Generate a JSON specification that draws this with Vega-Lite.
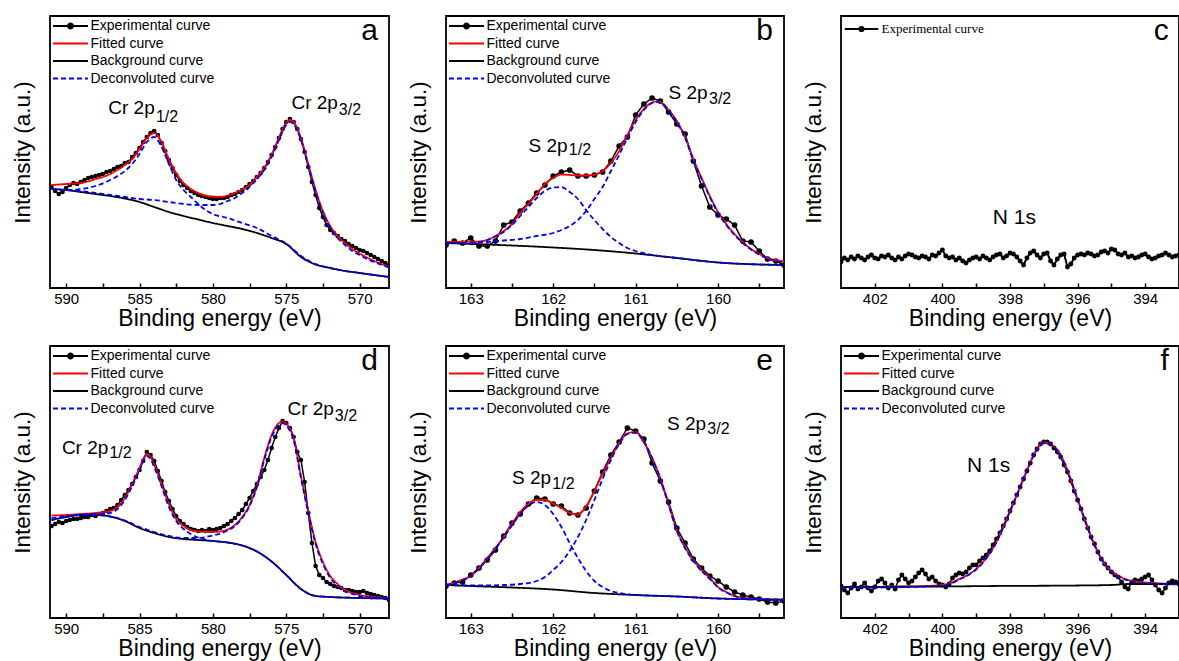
{
"$schema": "https://vega.github.io/schema/vega-lite/v6.json",
"background": "white",
"padding": {"left": 10, "top": 15, "right": 0, "bottom": 0},
"config": {
 "font": "Liberation Sans",
 "view": {"stroke": "black", "strokeWidth": 1.8},
 "axis": {"grid": false, "domain": false, "labelFont": "Liberation Sans", "labelColor": "black", "titleFont": "Liberation Sans", "titleFontWeight": "normal", "titleColor": "black"},
 "axisX": {"labelFontSize": 15, "tickSize": -5, "tickColor": "black", "tickWidth": 1.5, "labelPadding": 8, "labelFlush": false, "labelOverlap": false, "titleFontSize": 23, "titlePadding": 1},
 "axisY": {"labels": false, "ticks": false, "titleFontSize": 22.5, "titlePadding": 16},
 "legend": {"orient": "none", "legendX": 12.5, "legendY": 2, "labelFont": "Liberation Sans", "labelFontSize": 14, "labelColor": "black", "symbolSize": 196, "symbolStrokeWidth": 2, "labelOffset": 12, "rowPadding": 2.5, "padding": 0},
 "title": {"font": "Liberation Sans", "fontSize": 30, "fontWeight": "normal", "color": "black", "anchor": "end", "offset": -30, "dx": -11, "baseline": "alphabetic"}
},
"datasets": {
"a": [
{"s":"E","k":"E","x":591,"y":101},{"s":"E","k":"E","x":590.75,"y":97},{"s":"E","k":"E","x":590.5,"y":94},{"s":"E","k":"E","x":590.25,"y":96},{"s":"E","k":"E","x":590,"y":100},{"s":"E","k":"E","x":589.75,"y":103},{"s":"E","k":"E","x":589.5,"y":105},{"s":"E","k":"E","x":589.25,"y":104},{"s":"E","k":"E","x":589,"y":106},{"s":"E","k":"E","x":588.75,"y":108},{"s":"E","k":"E","x":588.5,"y":110},{"s":"E","k":"E","x":588.25,"y":111},{"s":"E","k":"E","x":588,"y":112},{"s":"E","k":"E","x":587.75,"y":113},{"s":"E","k":"E","x":587.5,"y":114},{"s":"E","k":"E","x":587.25,"y":116},{"s":"E","k":"E","x":587,"y":117},{"s":"E","k":"E","x":586.75,"y":119},{"s":"E","k":"E","x":586.5,"y":121},{"s":"E","k":"E","x":586.25,"y":122},{"s":"E","k":"E","x":586,"y":125},{"s":"E","k":"E","x":585.75,"y":126},{"s":"E","k":"E","x":585.5,"y":131},{"s":"E","k":"E","x":585.25,"y":135},{"s":"E","k":"E","x":585,"y":140},{"s":"E","k":"E","x":584.75,"y":146},{"s":"E","k":"E","x":584.5,"y":151},{"s":"E","k":"E","x":584.25,"y":155},{"s":"E","k":"E","x":584,"y":157},{"s":"E","k":"E","x":583.75,"y":153},{"s":"E","k":"E","x":583.5,"y":145},{"s":"E","k":"E","x":583.25,"y":137},{"s":"E","k":"E","x":583,"y":128},{"s":"E","k":"E","x":582.75,"y":120},{"s":"E","k":"E","x":582.5,"y":113},{"s":"E","k":"E","x":582.25,"y":107},{"s":"E","k":"E","x":582,"y":103},{"s":"E","k":"E","x":581.75,"y":100},{"s":"E","k":"E","x":581.5,"y":97},{"s":"E","k":"E","x":581.25,"y":95},{"s":"E","k":"E","x":581,"y":93},{"s":"E","k":"E","x":580.75,"y":92},{"s":"E","k":"E","x":580.5,"y":91},{"s":"E","k":"E","x":580.25,"y":90},{"s":"E","k":"E","x":580,"y":89},{"s":"E","k":"E","x":579.75,"y":89},{"s":"E","k":"E","x":579.5,"y":90},{"s":"E","k":"E","x":579.25,"y":90},{"s":"E","k":"E","x":579,"y":91},{"s":"E","k":"E","x":578.75,"y":93},{"s":"E","k":"E","x":578.5,"y":94},{"s":"E","k":"E","x":578.25,"y":96},{"s":"E","k":"E","x":578,"y":98},{"s":"E","k":"E","x":577.75,"y":101},{"s":"E","k":"E","x":577.5,"y":104},{"s":"E","k":"E","x":577.25,"y":107},{"s":"E","k":"E","x":577,"y":111},{"s":"E","k":"E","x":576.75,"y":115},{"s":"E","k":"E","x":576.5,"y":120},{"s":"E","k":"E","x":576.25,"y":126},{"s":"E","k":"E","x":576,"y":133},{"s":"E","k":"E","x":575.75,"y":141},{"s":"E","k":"E","x":575.5,"y":150},{"s":"E","k":"E","x":575.25,"y":159},{"s":"E","k":"E","x":575,"y":166},{"s":"E","k":"E","x":574.75,"y":169},{"s":"E","k":"E","x":574.5,"y":166},{"s":"E","k":"E","x":574.25,"y":159},{"s":"E","k":"E","x":574,"y":149},{"s":"E","k":"E","x":573.75,"y":136},{"s":"E","k":"E","x":573.5,"y":121},{"s":"E","k":"E","x":573.25,"y":106},{"s":"E","k":"E","x":573,"y":93},{"s":"E","k":"E","x":572.75,"y":80},{"s":"E","k":"E","x":572.5,"y":71},{"s":"E","k":"E","x":572.25,"y":63},{"s":"E","k":"E","x":572,"y":58},{"s":"E","k":"E","x":571.75,"y":55},{"s":"E","k":"E","x":571.5,"y":52},{"s":"E","k":"E","x":571.25,"y":49},{"s":"E","k":"E","x":571,"y":47},{"s":"E","k":"E","x":570.75,"y":44},{"s":"E","k":"E","x":570.5,"y":42},{"s":"E","k":"E","x":570.25,"y":40},{"s":"E","k":"E","x":570,"y":38},{"s":"E","k":"E","x":569.75,"y":37},{"s":"E","k":"E","x":569.5,"y":35},{"s":"E","k":"E","x":569.25,"y":33},{"s":"E","k":"E","x":569,"y":31},{"s":"E","k":"E","x":568.75,"y":29},{"s":"E","k":"E","x":568.5,"y":27},{"s":"E","k":"E","x":568.25,"y":25},{"s":"E","k":"E","x":568,"y":23},
{"s":"F","k":"F","x":591,"y":103},{"s":"F","k":"F","x":590.5,"y":103.5},{"s":"F","k":"F","x":590,"y":104},{"s":"F","k":"F","x":589.5,"y":104.5},{"s":"F","k":"F","x":589,"y":105},{"s":"F","k":"F","x":588.5,"y":106.5},{"s":"F","k":"F","x":588,"y":109},{"s":"F","k":"F","x":587.5,"y":111},{"s":"F","k":"F","x":587,"y":114},{"s":"F","k":"F","x":586.5,"y":118},{"s":"F","k":"F","x":586,"y":123},{"s":"F","k":"F","x":585.5,"y":129},{"s":"F","k":"F","x":585,"y":139},{"s":"F","k":"F","x":584.5,"y":150},{"s":"F","k":"F","x":584,"y":155},{"s":"F","k":"F","x":583.5,"y":146},{"s":"F","k":"F","x":583,"y":129},{"s":"F","k":"F","x":582.5,"y":115},{"s":"F","k":"F","x":582,"y":105},{"s":"F","k":"F","x":581.5,"y":99},{"s":"F","k":"F","x":581,"y":95},{"s":"F","k":"F","x":580.5,"y":92.5},{"s":"F","k":"F","x":580,"y":91.5},{"s":"F","k":"F","x":579.5,"y":91},{"s":"F","k":"F","x":579,"y":92.5},{"s":"F","k":"F","x":578.5,"y":95},{"s":"F","k":"F","x":578,"y":98.5},{"s":"F","k":"F","x":577.5,"y":103},{"s":"F","k":"F","x":577,"y":111},{"s":"F","k":"F","x":576.5,"y":120},{"s":"F","k":"F","x":576,"y":133},{"s":"F","k":"F","x":575.5,"y":150},{"s":"F","k":"F","x":575,"y":165},{"s":"F","k":"F","x":574.75,"y":168},{"s":"F","k":"F","x":574.5,"y":166},{"s":"F","k":"F","x":574,"y":150},{"s":"F","k":"F","x":573.5,"y":124},{"s":"F","k":"F","x":573,"y":98},{"s":"F","k":"F","x":572.5,"y":77},{"s":"F","k":"F","x":572,"y":62},{"s":"F","k":"F","x":571.5,"y":52},{"s":"F","k":"F","x":571,"y":45},{"s":"F","k":"F","x":570.5,"y":39},{"s":"F","k":"F","x":570,"y":34.5},{"s":"F","k":"F","x":569.5,"y":30.5},{"s":"F","k":"F","x":569,"y":27},{"s":"F","k":"F","x":568.5,"y":24},{"s":"F","k":"F","x":568,"y":21},
{"s":"B","k":"B","x":591,"y":99},{"s":"B","k":"B","x":590,"y":98},{"s":"B","k":"B","x":589,"y":96},{"s":"B","k":"B","x":588,"y":94},{"s":"B","k":"B","x":587,"y":92},{"s":"B","k":"B","x":586,"y":89.5},{"s":"B","k":"B","x":585,"y":86},{"s":"B","k":"B","x":584,"y":81},{"s":"B","k":"B","x":583,"y":76},{"s":"B","k":"B","x":582,"y":72},{"s":"B","k":"B","x":581,"y":68.5},{"s":"B","k":"B","x":580,"y":65},{"s":"B","k":"B","x":579,"y":62},{"s":"B","k":"B","x":578,"y":59},{"s":"B","k":"B","x":577,"y":55},{"s":"B","k":"B","x":576,"y":50},{"s":"B","k":"B","x":575,"y":44},{"s":"B","k":"B","x":574,"y":31},{"s":"B","k":"B","x":573,"y":23.5},{"s":"B","k":"B","x":572,"y":20},{"s":"B","k":"B","x":571,"y":17},{"s":"B","k":"B","x":570,"y":15},{"s":"B","k":"B","x":569,"y":13},{"s":"B","k":"B","x":568,"y":11},
{"s":"D","k":"D1","x":591,"y":99},{"s":"D","k":"D1","x":590,"y":98},{"s":"D","k":"D1","x":589,"y":99},{"s":"D","k":"D1","x":588,"y":102},{"s":"D","k":"D1","x":587,"y":108},{"s":"D","k":"D1","x":586,"y":117},{"s":"D","k":"D1","x":585.5,"y":124},{"s":"D","k":"D1","x":585,"y":134},{"s":"D","k":"D1","x":584.5,"y":146},{"s":"D","k":"D1","x":584,"y":151},{"s":"D","k":"D1","x":583.5,"y":141},{"s":"D","k":"D1","x":583,"y":124},{"s":"D","k":"D1","x":582.5,"y":108},{"s":"D","k":"D1","x":582,"y":98},{"s":"D","k":"D1","x":581.5,"y":91},{"s":"D","k":"D1","x":581,"y":84},{"s":"D","k":"D1","x":580.5,"y":78},{"s":"D","k":"D1","x":580,"y":74},{"s":"D","k":"D1","x":579,"y":70},{"s":"D","k":"D1","x":578,"y":65},{"s":"D","k":"D1","x":577,"y":60},{"s":"D","k":"D1","x":576,"y":52},{"s":"D","k":"D1","x":575,"y":44.5},{"s":"D","k":"D1","x":574,"y":32},{"s":"D","k":"D1","x":573,"y":24},{"s":"D","k":"D1","x":572,"y":20},{"s":"D","k":"D1","x":570,"y":15},{"s":"D","k":"D1","x":568,"y":11},
{"s":"D","k":"D2","x":591,"y":99},{"s":"D","k":"D2","x":590,"y":98},{"s":"D","k":"D2","x":589,"y":97},{"s":"D","k":"D2","x":588,"y":95},{"s":"D","k":"D2","x":587,"y":93},{"s":"D","k":"D2","x":586,"y":91},{"s":"D","k":"D2","x":585,"y":89},{"s":"D","k":"D2","x":584,"y":88},{"s":"D","k":"D2","x":583,"y":86},{"s":"D","k":"D2","x":582,"y":84},{"s":"D","k":"D2","x":581,"y":83},{"s":"D","k":"D2","x":580,"y":83},{"s":"D","k":"D2","x":579.5,"y":84},{"s":"D","k":"D2","x":579,"y":87},{"s":"D","k":"D2","x":578.5,"y":90},{"s":"D","k":"D2","x":578,"y":95},{"s":"D","k":"D2","x":577.5,"y":101},{"s":"D","k":"D2","x":577,"y":109},{"s":"D","k":"D2","x":576.5,"y":118},{"s":"D","k":"D2","x":576,"y":131},{"s":"D","k":"D2","x":575.5,"y":148},{"s":"D","k":"D2","x":575,"y":163},{"s":"D","k":"D2","x":574.75,"y":166},{"s":"D","k":"D2","x":574.5,"y":164},{"s":"D","k":"D2","x":574,"y":148},{"s":"D","k":"D2","x":573.5,"y":122},{"s":"D","k":"D2","x":573,"y":96},{"s":"D","k":"D2","x":572.5,"y":75},{"s":"D","k":"D2","x":572,"y":60},{"s":"D","k":"D2","x":571.5,"y":50},{"s":"D","k":"D2","x":571,"y":43},{"s":"D","k":"D2","x":570.5,"y":37},{"s":"D","k":"D2","x":570,"y":33},{"s":"D","k":"D2","x":569.5,"y":29},{"s":"D","k":"D2","x":569,"y":26},{"s":"D","k":"D2","x":568.5,"y":23},{"s":"D","k":"D2","x":568,"y":20.5}
],
"a_t": [{"p":"m","t":"Cr 2p","x":587.13,"y":174},{"p":"s","t":"1/2","x":583.88,"y":166},{"p":"m","t":"Cr 2p","x":574.65,"y":179.3},{"p":"s","t":"3/2","x":571.42,"y":172.7}],
"b": [
{"s":"E","k":"E","x":163.3,"y":43},{"s":"E","k":"E","x":163.2,"y":47},{"s":"E","k":"E","x":163.1,"y":45},{"s":"E","k":"E","x":163,"y":50},{"s":"E","k":"E","x":162.9,"y":42},{"s":"E","k":"E","x":162.8,"y":42},{"s":"E","k":"E","x":162.7,"y":47},{"s":"E","k":"E","x":162.6,"y":63},{"s":"E","k":"E","x":162.5,"y":66},{"s":"E","k":"E","x":162.4,"y":77},{"s":"E","k":"E","x":162.3,"y":85},{"s":"E","k":"E","x":162.2,"y":95},{"s":"E","k":"E","x":162.1,"y":103},{"s":"E","k":"E","x":162,"y":112},{"s":"E","k":"E","x":161.9,"y":116},{"s":"E","k":"E","x":161.8,"y":118},{"s":"E","k":"E","x":161.7,"y":112},{"s":"E","k":"E","x":161.6,"y":112},{"s":"E","k":"E","x":161.5,"y":113},{"s":"E","k":"E","x":161.4,"y":116},{"s":"E","k":"E","x":161.3,"y":127},{"s":"E","k":"E","x":161.2,"y":142},{"s":"E","k":"E","x":161.1,"y":151},{"s":"E","k":"E","x":161,"y":173},{"s":"E","k":"E","x":160.9,"y":184},{"s":"E","k":"E","x":160.8,"y":190},{"s":"E","k":"E","x":160.7,"y":187},{"s":"E","k":"E","x":160.6,"y":176},{"s":"E","k":"E","x":160.5,"y":164},{"s":"E","k":"E","x":160.4,"y":154},{"s":"E","k":"E","x":160.3,"y":127},{"s":"E","k":"E","x":160.2,"y":102},{"s":"E","k":"E","x":160.1,"y":81},{"s":"E","k":"E","x":160,"y":73},{"s":"E","k":"E","x":159.9,"y":69},{"s":"E","k":"E","x":159.8,"y":63},{"s":"E","k":"E","x":159.7,"y":47},{"s":"E","k":"E","x":159.6,"y":46},{"s":"E","k":"E","x":159.5,"y":37},{"s":"E","k":"E","x":159.4,"y":29},{"s":"E","k":"E","x":159.3,"y":27},{"s":"E","k":"E","x":159.2,"y":23},
{"s":"F","k":"F","x":163.3,"y":46},{"s":"F","k":"F","x":163.1,"y":46},{"s":"F","k":"F","x":162.9,"y":46.5},{"s":"F","k":"F","x":162.8,"y":48},{"s":"F","k":"F","x":162.7,"y":52},{"s":"F","k":"F","x":162.6,"y":57},{"s":"F","k":"F","x":162.5,"y":64},{"s":"F","k":"F","x":162.4,"y":75},{"s":"F","k":"F","x":162.3,"y":84},{"s":"F","k":"F","x":162.2,"y":94},{"s":"F","k":"F","x":162.1,"y":104},{"s":"F","k":"F","x":162,"y":110},{"s":"F","k":"F","x":161.9,"y":113.5},{"s":"F","k":"F","x":161.8,"y":113},{"s":"F","k":"F","x":161.7,"y":112.5},{"s":"F","k":"F","x":161.6,"y":112.5},{"s":"F","k":"F","x":161.5,"y":113.5},{"s":"F","k":"F","x":161.4,"y":117},{"s":"F","k":"F","x":161.3,"y":125},{"s":"F","k":"F","x":161.2,"y":137},{"s":"F","k":"F","x":161.1,"y":153},{"s":"F","k":"F","x":161,"y":168},{"s":"F","k":"F","x":160.9,"y":179},{"s":"F","k":"F","x":160.8,"y":185.5},{"s":"F","k":"F","x":160.75,"y":186.5},{"s":"F","k":"F","x":160.7,"y":186},{"s":"F","k":"F","x":160.6,"y":178},{"s":"F","k":"F","x":160.5,"y":167},{"s":"F","k":"F","x":160.4,"y":151},{"s":"F","k":"F","x":160.3,"y":129},{"s":"F","k":"F","x":160.2,"y":110},{"s":"F","k":"F","x":160.1,"y":92},{"s":"F","k":"F","x":160,"y":76},{"s":"F","k":"F","x":159.9,"y":64},{"s":"F","k":"F","x":159.8,"y":54},{"s":"F","k":"F","x":159.7,"y":46},{"s":"F","k":"F","x":159.6,"y":39},{"s":"F","k":"F","x":159.5,"y":34},{"s":"F","k":"F","x":159.4,"y":30},{"s":"F","k":"F","x":159.3,"y":28},{"s":"F","k":"F","x":159.2,"y":26.5},
{"s":"B","k":"B","x":163.3,"y":45},{"s":"B","k":"B","x":163,"y":44},{"s":"B","k":"B","x":162.5,"y":42.5},{"s":"B","k":"B","x":162,"y":40.5},{"s":"B","k":"B","x":161.5,"y":38},{"s":"B","k":"B","x":161,"y":34.5},{"s":"B","k":"B","x":160.5,"y":30},{"s":"B","k":"B","x":160,"y":25.5},{"s":"B","k":"B","x":159.5,"y":23.5},{"s":"B","k":"B","x":159.2,"y":23},
{"s":"D","k":"D1","x":163.3,"y":45},{"s":"D","k":"D1","x":163.1,"y":45},{"s":"D","k":"D1","x":162.9,"y":46},{"s":"D","k":"D1","x":162.8,"y":48},{"s":"D","k":"D1","x":162.7,"y":51.5},{"s":"D","k":"D1","x":162.6,"y":56},{"s":"D","k":"D1","x":162.5,"y":63},{"s":"D","k":"D1","x":162.4,"y":72},{"s":"D","k":"D1","x":162.3,"y":81},{"s":"D","k":"D1","x":162.2,"y":90},{"s":"D","k":"D1","x":162.1,"y":97},{"s":"D","k":"D1","x":162,"y":100.5},{"s":"D","k":"D1","x":161.9,"y":101},{"s":"D","k":"D1","x":161.8,"y":96},{"s":"D","k":"D1","x":161.7,"y":89},{"s":"D","k":"D1","x":161.6,"y":78},{"s":"D","k":"D1","x":161.5,"y":68},{"s":"D","k":"D1","x":161.4,"y":59},{"s":"D","k":"D1","x":161.3,"y":51},{"s":"D","k":"D1","x":161.2,"y":45},{"s":"D","k":"D1","x":161.1,"y":40},{"s":"D","k":"D1","x":161,"y":37},{"s":"D","k":"D1","x":160.8,"y":33},{"s":"D","k":"D1","x":160.5,"y":30},{"s":"D","k":"D1","x":160,"y":25.5},{"s":"D","k":"D1","x":159.5,"y":23.5},{"s":"D","k":"D1","x":159.2,"y":23},
{"s":"D","k":"D2","x":163.3,"y":45},{"s":"D","k":"D2","x":163,"y":45},{"s":"D","k":"D2","x":162.8,"y":46},{"s":"D","k":"D2","x":162.6,"y":47.5},{"s":"D","k":"D2","x":162.4,"y":49},{"s":"D","k":"D2","x":162.2,"y":52},{"s":"D","k":"D2","x":162,"y":55},{"s":"D","k":"D2","x":161.9,"y":58},{"s":"D","k":"D2","x":161.8,"y":62},{"s":"D","k":"D2","x":161.7,"y":68},{"s":"D","k":"D2","x":161.6,"y":77},{"s":"D","k":"D2","x":161.5,"y":89},{"s":"D","k":"D2","x":161.4,"y":101},{"s":"D","k":"D2","x":161.3,"y":117},{"s":"D","k":"D2","x":161.2,"y":133},{"s":"D","k":"D2","x":161.1,"y":150},{"s":"D","k":"D2","x":161,"y":166},{"s":"D","k":"D2","x":160.9,"y":178},{"s":"D","k":"D2","x":160.8,"y":185},{"s":"D","k":"D2","x":160.75,"y":186},{"s":"D","k":"D2","x":160.7,"y":185.5},{"s":"D","k":"D2","x":160.6,"y":178},{"s":"D","k":"D2","x":160.5,"y":166},{"s":"D","k":"D2","x":160.4,"y":150},{"s":"D","k":"D2","x":160.3,"y":128},{"s":"D","k":"D2","x":160.2,"y":109},{"s":"D","k":"D2","x":160.1,"y":91},{"s":"D","k":"D2","x":160,"y":75},{"s":"D","k":"D2","x":159.9,"y":63},{"s":"D","k":"D2","x":159.8,"y":53},{"s":"D","k":"D2","x":159.7,"y":45},{"s":"D","k":"D2","x":159.6,"y":38.5},{"s":"D","k":"D2","x":159.5,"y":33.5},{"s":"D","k":"D2","x":159.4,"y":29.5},{"s":"D","k":"D2","x":159.3,"y":27},{"s":"D","k":"D2","x":159.2,"y":25.5}
],
"b_t": [{"p":"m","t":"S 2p","x":162.30,"y":136},{"p":"s","t":"1/2","x":161.81,"y":132.7},{"p":"m","t":"S 2p","x":160.60,"y":189.3},{"p":"s","t":"3/2","x":160.11,"y":184.3}],
"c": [
{"s":"E","k":"E","x":403,"y":26},{"s":"E","k":"E","x":402.9,"y":30},{"s":"E","k":"E","x":402.8,"y":28},{"s":"E","k":"E","x":402.7,"y":31},{"s":"E","k":"E","x":402.6,"y":29},{"s":"E","k":"E","x":402.5,"y":32},{"s":"E","k":"E","x":402.4,"y":30},{"s":"E","k":"E","x":402.3,"y":28},{"s":"E","k":"E","x":402.2,"y":31},{"s":"E","k":"E","x":402.1,"y":33},{"s":"E","k":"E","x":402,"y":30},{"s":"E","k":"E","x":401.9,"y":29},{"s":"E","k":"E","x":401.8,"y":32},{"s":"E","k":"E","x":401.7,"y":31},{"s":"E","k":"E","x":401.6,"y":33},{"s":"E","k":"E","x":401.5,"y":30},{"s":"E","k":"E","x":401.4,"y":28},{"s":"E","k":"E","x":401.3,"y":31},{"s":"E","k":"E","x":401.2,"y":29},{"s":"E","k":"E","x":401.1,"y":32},{"s":"E","k":"E","x":401,"y":34},{"s":"E","k":"E","x":400.9,"y":33},{"s":"E","k":"E","x":400.8,"y":31},{"s":"E","k":"E","x":400.7,"y":30},{"s":"E","k":"E","x":400.6,"y":32},{"s":"E","k":"E","x":400.5,"y":31},{"s":"E","k":"E","x":400.4,"y":29},{"s":"E","k":"E","x":400.3,"y":33},{"s":"E","k":"E","x":400.2,"y":32},{"s":"E","k":"E","x":400.1,"y":35},{"s":"E","k":"E","x":400,"y":38},{"s":"E","k":"E","x":399.9,"y":32},{"s":"E","k":"E","x":399.8,"y":30},{"s":"E","k":"E","x":399.7,"y":31},{"s":"E","k":"E","x":399.6,"y":28},{"s":"E","k":"E","x":399.5,"y":30},{"s":"E","k":"E","x":399.4,"y":27},{"s":"E","k":"E","x":399.3,"y":25},{"s":"E","k":"E","x":399.2,"y":28},{"s":"E","k":"E","x":399.1,"y":30},{"s":"E","k":"E","x":399,"y":31},{"s":"E","k":"E","x":398.9,"y":29},{"s":"E","k":"E","x":398.8,"y":32},{"s":"E","k":"E","x":398.7,"y":30},{"s":"E","k":"E","x":398.6,"y":28},{"s":"E","k":"E","x":398.5,"y":31},{"s":"E","k":"E","x":398.4,"y":33},{"s":"E","k":"E","x":398.3,"y":34},{"s":"E","k":"E","x":398.2,"y":30},{"s":"E","k":"E","x":398.1,"y":32},{"s":"E","k":"E","x":398,"y":35},{"s":"E","k":"E","x":397.9,"y":34},{"s":"E","k":"E","x":397.8,"y":31},{"s":"E","k":"E","x":397.7,"y":27},{"s":"E","k":"E","x":397.6,"y":23},{"s":"E","k":"E","x":397.5,"y":30},{"s":"E","k":"E","x":397.4,"y":35},{"s":"E","k":"E","x":397.3,"y":37},{"s":"E","k":"E","x":397.2,"y":33},{"s":"E","k":"E","x":397.1,"y":30},{"s":"E","k":"E","x":397,"y":34},{"s":"E","k":"E","x":396.9,"y":35},{"s":"E","k":"E","x":396.8,"y":27},{"s":"E","k":"E","x":396.7,"y":23},{"s":"E","k":"E","x":396.6,"y":29},{"s":"E","k":"E","x":396.5,"y":33},{"s":"E","k":"E","x":396.4,"y":34},{"s":"E","k":"E","x":396.3,"y":21},{"s":"E","k":"E","x":396.2,"y":24},{"s":"E","k":"E","x":396.1,"y":30},{"s":"E","k":"E","x":396,"y":33},{"s":"E","k":"E","x":395.9,"y":34},{"s":"E","k":"E","x":395.8,"y":33},{"s":"E","k":"E","x":395.7,"y":35},{"s":"E","k":"E","x":395.6,"y":34},{"s":"E","k":"E","x":395.5,"y":32},{"s":"E","k":"E","x":395.4,"y":33},{"s":"E","k":"E","x":395.3,"y":36},{"s":"E","k":"E","x":395.2,"y":37},{"s":"E","k":"E","x":395.1,"y":35},{"s":"E","k":"E","x":395,"y":39},{"s":"E","k":"E","x":394.9,"y":38},{"s":"E","k":"E","x":394.8,"y":34},{"s":"E","k":"E","x":394.7,"y":33},{"s":"E","k":"E","x":394.6,"y":35},{"s":"E","k":"E","x":394.5,"y":31},{"s":"E","k":"E","x":394.4,"y":32},{"s":"E","k":"E","x":394.3,"y":30},{"s":"E","k":"E","x":394.2,"y":31},{"s":"E","k":"E","x":394.1,"y":33},{"s":"E","k":"E","x":394,"y":34},{"s":"E","k":"E","x":393.9,"y":31},{"s":"E","k":"E","x":393.8,"y":29},{"s":"E","k":"E","x":393.7,"y":30},{"s":"E","k":"E","x":393.6,"y":32},{"s":"E","k":"E","x":393.5,"y":33},{"s":"E","k":"E","x":393.4,"y":35},{"s":"E","k":"E","x":393.3,"y":33},{"s":"E","k":"E","x":393.2,"y":31},{"s":"E","k":"E","x":393.1,"y":32},{"s":"E","k":"E","x":393,"y":33}
],
"c_t": [{"p":"m","t":"N 1s","x":398.51,"y":64.3}],
"d": [
{"s":"E","k":"E","x":591,"y":92},{"s":"E","k":"E","x":590.75,"y":94},{"s":"E","k":"E","x":590.5,"y":96},{"s":"E","k":"E","x":590.25,"y":95},{"s":"E","k":"E","x":590,"y":97},{"s":"E","k":"E","x":589.75,"y":98},{"s":"E","k":"E","x":589.5,"y":99},{"s":"E","k":"E","x":589.25,"y":99},{"s":"E","k":"E","x":589,"y":100},{"s":"E","k":"E","x":588.75,"y":101},{"s":"E","k":"E","x":588.5,"y":101},{"s":"E","k":"E","x":588.25,"y":103},{"s":"E","k":"E","x":588,"y":102},{"s":"E","k":"E","x":587.75,"y":104},{"s":"E","k":"E","x":587.5,"y":105},{"s":"E","k":"E","x":587.25,"y":107},{"s":"E","k":"E","x":587,"y":109},{"s":"E","k":"E","x":586.75,"y":110},{"s":"E","k":"E","x":586.5,"y":113},{"s":"E","k":"E","x":586.25,"y":118},{"s":"E","k":"E","x":586,"y":123},{"s":"E","k":"E","x":585.75,"y":128},{"s":"E","k":"E","x":585.5,"y":134},{"s":"E","k":"E","x":585.25,"y":141},{"s":"E","k":"E","x":585,"y":148},{"s":"E","k":"E","x":584.75,"y":157},{"s":"E","k":"E","x":584.5,"y":166},{"s":"E","k":"E","x":584.25,"y":163},{"s":"E","k":"E","x":584,"y":157},{"s":"E","k":"E","x":583.75,"y":147},{"s":"E","k":"E","x":583.5,"y":137},{"s":"E","k":"E","x":583.25,"y":126},{"s":"E","k":"E","x":583,"y":117},{"s":"E","k":"E","x":582.75,"y":109},{"s":"E","k":"E","x":582.5,"y":102},{"s":"E","k":"E","x":582.25,"y":97},{"s":"E","k":"E","x":582,"y":94},{"s":"E","k":"E","x":581.75,"y":91},{"s":"E","k":"E","x":581.5,"y":89},{"s":"E","k":"E","x":581.25,"y":88},{"s":"E","k":"E","x":581,"y":87},{"s":"E","k":"E","x":580.75,"y":88},{"s":"E","k":"E","x":580.5,"y":87},{"s":"E","k":"E","x":580.25,"y":89},{"s":"E","k":"E","x":580,"y":88},{"s":"E","k":"E","x":579.75,"y":89},{"s":"E","k":"E","x":579.5,"y":90},{"s":"E","k":"E","x":579.25,"y":92},{"s":"E","k":"E","x":579,"y":94},{"s":"E","k":"E","x":578.75,"y":97},{"s":"E","k":"E","x":578.5,"y":100},{"s":"E","k":"E","x":578.25,"y":104},{"s":"E","k":"E","x":578,"y":108},{"s":"E","k":"E","x":577.75,"y":114},{"s":"E","k":"E","x":577.5,"y":120},{"s":"E","k":"E","x":577.25,"y":127},{"s":"E","k":"E","x":577,"y":134},{"s":"E","k":"E","x":576.75,"y":141},{"s":"E","k":"E","x":576.5,"y":148},{"s":"E","k":"E","x":576.25,"y":158},{"s":"E","k":"E","x":576,"y":170},{"s":"E","k":"E","x":575.75,"y":181},{"s":"E","k":"E","x":575.5,"y":190},{"s":"E","k":"E","x":575.25,"y":197},{"s":"E","k":"E","x":575,"y":195},{"s":"E","k":"E","x":574.75,"y":190},{"s":"E","k":"E","x":574.5,"y":181},{"s":"E","k":"E","x":574.25,"y":166},{"s":"E","k":"E","x":574,"y":158},{"s":"E","k":"E","x":573.75,"y":136},{"s":"E","k":"E","x":573.5,"y":105},{"s":"E","k":"E","x":573.25,"y":75},{"s":"E","k":"E","x":573,"y":52},{"s":"E","k":"E","x":572.75,"y":43},{"s":"E","k":"E","x":572.5,"y":40},{"s":"E","k":"E","x":572.25,"y":36},{"s":"E","k":"E","x":572,"y":34},{"s":"E","k":"E","x":571.75,"y":32},{"s":"E","k":"E","x":571.5,"y":31},{"s":"E","k":"E","x":571.25,"y":30},{"s":"E","k":"E","x":571,"y":28},{"s":"E","k":"E","x":570.75,"y":28},{"s":"E","k":"E","x":570.5,"y":27},{"s":"E","k":"E","x":570.25,"y":26},{"s":"E","k":"E","x":570,"y":26},{"s":"E","k":"E","x":569.75,"y":27},{"s":"E","k":"E","x":569.5,"y":25},{"s":"E","k":"E","x":569.25,"y":24},{"s":"E","k":"E","x":569,"y":23},{"s":"E","k":"E","x":568.75,"y":22},{"s":"E","k":"E","x":568.5,"y":21},{"s":"E","k":"E","x":568.25,"y":20},{"s":"E","k":"E","x":568,"y":18},
{"s":"F","k":"F","x":591,"y":102.5},{"s":"F","k":"F","x":590,"y":103},{"s":"F","k":"F","x":589,"y":104},{"s":"F","k":"F","x":588,"y":105},{"s":"F","k":"F","x":587,"y":107},{"s":"F","k":"F","x":586.5,"y":111},{"s":"F","k":"F","x":586,"y":120},{"s":"F","k":"F","x":585.5,"y":134},{"s":"F","k":"F","x":585,"y":150},{"s":"F","k":"F","x":584.75,"y":159},{"s":"F","k":"F","x":584.5,"y":164},{"s":"F","k":"F","x":584.25,"y":161},{"s":"F","k":"F","x":584,"y":153},{"s":"F","k":"F","x":583.5,"y":134},{"s":"F","k":"F","x":583,"y":114},{"s":"F","k":"F","x":582.5,"y":99},{"s":"F","k":"F","x":582,"y":92},{"s":"F","k":"F","x":581.5,"y":88},{"s":"F","k":"F","x":581,"y":86.5},{"s":"F","k":"F","x":580.5,"y":86},{"s":"F","k":"F","x":580,"y":86},{"s":"F","k":"F","x":579.5,"y":86.5},{"s":"F","k":"F","x":579,"y":88.5},{"s":"F","k":"F","x":578.5,"y":93},{"s":"F","k":"F","x":578,"y":101},{"s":"F","k":"F","x":577.5,"y":113},{"s":"F","k":"F","x":577,"y":132},{"s":"F","k":"F","x":576.5,"y":160},{"s":"F","k":"F","x":576,"y":183},{"s":"F","k":"F","x":575.5,"y":195},{"s":"F","k":"F","x":575.25,"y":196.5},{"s":"F","k":"F","x":575,"y":194},{"s":"F","k":"F","x":574.5,"y":180},{"s":"F","k":"F","x":574,"y":142},{"s":"F","k":"F","x":573.5,"y":107},{"s":"F","k":"F","x":573,"y":76},{"s":"F","k":"F","x":572.5,"y":56},{"s":"F","k":"F","x":572,"y":42},{"s":"F","k":"F","x":571.5,"y":34},{"s":"F","k":"F","x":571,"y":28},{"s":"F","k":"F","x":570.5,"y":25},{"s":"F","k":"F","x":570,"y":23},{"s":"F","k":"F","x":569,"y":21},{"s":"F","k":"F","x":568,"y":19.5},
{"s":"B","k":"B","x":591,"y":98},{"s":"B","k":"B","x":590,"y":101},{"s":"B","k":"B","x":589,"y":103},{"s":"B","k":"B","x":588,"y":103},{"s":"B","k":"B","x":587,"y":101.5},{"s":"B","k":"B","x":586,"y":97},{"s":"B","k":"B","x":585,"y":90},{"s":"B","k":"B","x":584,"y":85},{"s":"B","k":"B","x":583,"y":81},{"s":"B","k":"B","x":582,"y":79},{"s":"B","k":"B","x":581,"y":78},{"s":"B","k":"B","x":580,"y":77},{"s":"B","k":"B","x":579,"y":75.5},{"s":"B","k":"B","x":578,"y":72.5},{"s":"B","k":"B","x":577,"y":66.5},{"s":"B","k":"B","x":576,"y":56.5},{"s":"B","k":"B","x":575,"y":43},{"s":"B","k":"B","x":574,"y":29},{"s":"B","k":"B","x":573,"y":22},{"s":"B","k":"B","x":572,"y":21},{"s":"B","k":"B","x":570,"y":20},{"s":"B","k":"B","x":568,"y":19.5},
{"s":"D","k":"D1","x":591,"y":100},{"s":"D","k":"D1","x":590,"y":102},{"s":"D","k":"D1","x":589,"y":103.5},{"s":"D","k":"D1","x":588,"y":104},{"s":"D","k":"D1","x":587,"y":105},{"s":"D","k":"D1","x":586.5,"y":109},{"s":"D","k":"D1","x":586,"y":118},{"s":"D","k":"D1","x":585.5,"y":132},{"s":"D","k":"D1","x":585,"y":148},{"s":"D","k":"D1","x":584.75,"y":157},{"s":"D","k":"D1","x":584.5,"y":162},{"s":"D","k":"D1","x":584.25,"y":159},{"s":"D","k":"D1","x":584,"y":151},{"s":"D","k":"D1","x":583.5,"y":132},{"s":"D","k":"D1","x":583,"y":111},{"s":"D","k":"D1","x":582.5,"y":97},{"s":"D","k":"D1","x":582,"y":89},{"s":"D","k":"D1","x":581.5,"y":84},{"s":"D","k":"D1","x":581,"y":80.5},{"s":"D","k":"D1","x":580,"y":77},{"s":"D","k":"D1","x":579,"y":75.5},{"s":"D","k":"D1","x":578,"y":72.5},{"s":"D","k":"D1","x":577,"y":66.5},{"s":"D","k":"D1","x":576,"y":56.5},{"s":"D","k":"D1","x":575,"y":43},{"s":"D","k":"D1","x":574,"y":29},{"s":"D","k":"D1","x":573,"y":22},{"s":"D","k":"D1","x":572,"y":21},{"s":"D","k":"D1","x":570,"y":20},{"s":"D","k":"D1","x":568,"y":19.5},
{"s":"D","k":"D2","x":591,"y":98},{"s":"D","k":"D2","x":590,"y":101},{"s":"D","k":"D2","x":589,"y":103},{"s":"D","k":"D2","x":588,"y":103},{"s":"D","k":"D2","x":587,"y":101.5},{"s":"D","k":"D2","x":586,"y":97.5},{"s":"D","k":"D2","x":585,"y":91},{"s":"D","k":"D2","x":584,"y":86},{"s":"D","k":"D2","x":583,"y":82},{"s":"D","k":"D2","x":582,"y":80},{"s":"D","k":"D2","x":581,"y":80},{"s":"D","k":"D2","x":580.5,"y":81},{"s":"D","k":"D2","x":580,"y":82.5},{"s":"D","k":"D2","x":579.5,"y":84.5},{"s":"D","k":"D2","x":579,"y":87.5},{"s":"D","k":"D2","x":578.5,"y":92},{"s":"D","k":"D2","x":578,"y":100},{"s":"D","k":"D2","x":577.5,"y":112},{"s":"D","k":"D2","x":577,"y":131},{"s":"D","k":"D2","x":576.5,"y":158},{"s":"D","k":"D2","x":576,"y":181},{"s":"D","k":"D2","x":575.5,"y":193},{"s":"D","k":"D2","x":575.25,"y":195},{"s":"D","k":"D2","x":575,"y":192.5},{"s":"D","k":"D2","x":574.5,"y":178},{"s":"D","k":"D2","x":574,"y":140},{"s":"D","k":"D2","x":573.5,"y":105},{"s":"D","k":"D2","x":573,"y":74},{"s":"D","k":"D2","x":572.5,"y":54},{"s":"D","k":"D2","x":572,"y":40},{"s":"D","k":"D2","x":571.5,"y":32},{"s":"D","k":"D2","x":571,"y":26.5},{"s":"D","k":"D2","x":570.5,"y":24},{"s":"D","k":"D2","x":570,"y":22},{"s":"D","k":"D2","x":569,"y":20.5},{"s":"D","k":"D2","x":568,"y":19}
],
"d_t": [{"p":"m","t":"Cr 2p","x":590.29,"y":164.3},{"p":"s","t":"1/2","x":587.05,"y":160},{"p":"m","t":"Cr 2p","x":574.92,"y":202.7},{"p":"s","t":"3/2","x":571.69,"y":196.7}],
"e": [
{"s":"E","k":"E","x":163.3,"y":32},{"s":"E","k":"E","x":163.2,"y":35},{"s":"E","k":"E","x":163.1,"y":36},{"s":"E","k":"E","x":163,"y":43},{"s":"E","k":"E","x":162.9,"y":50},{"s":"E","k":"E","x":162.8,"y":58},{"s":"E","k":"E","x":162.7,"y":68},{"s":"E","k":"E","x":162.6,"y":82},{"s":"E","k":"E","x":162.5,"y":95},{"s":"E","k":"E","x":162.4,"y":104},{"s":"E","k":"E","x":162.3,"y":114},{"s":"E","k":"E","x":162.2,"y":120},{"s":"E","k":"E","x":162.1,"y":119},{"s":"E","k":"E","x":162,"y":114},{"s":"E","k":"E","x":161.9,"y":112},{"s":"E","k":"E","x":161.8,"y":105},{"s":"E","k":"E","x":161.7,"y":103},{"s":"E","k":"E","x":161.6,"y":110},{"s":"E","k":"E","x":161.5,"y":127},{"s":"E","k":"E","x":161.4,"y":146},{"s":"E","k":"E","x":161.3,"y":163},{"s":"E","k":"E","x":161.2,"y":176},{"s":"E","k":"E","x":161.1,"y":190},{"s":"E","k":"E","x":161,"y":187},{"s":"E","k":"E","x":160.9,"y":179},{"s":"E","k":"E","x":160.8,"y":155},{"s":"E","k":"E","x":160.7,"y":137},{"s":"E","k":"E","x":160.6,"y":116},{"s":"E","k":"E","x":160.5,"y":90},{"s":"E","k":"E","x":160.4,"y":75},{"s":"E","k":"E","x":160.3,"y":59},{"s":"E","k":"E","x":160.2,"y":50},{"s":"E","k":"E","x":160.1,"y":42},{"s":"E","k":"E","x":160,"y":37},{"s":"E","k":"E","x":159.9,"y":31},{"s":"E","k":"E","x":159.8,"y":26},{"s":"E","k":"E","x":159.7,"y":23},{"s":"E","k":"E","x":159.6,"y":21},{"s":"E","k":"E","x":159.5,"y":19},{"s":"E","k":"E","x":159.4,"y":16},{"s":"E","k":"E","x":159.3,"y":15},{"s":"E","k":"E","x":159.2,"y":17},
{"s":"F","k":"F","x":163.3,"y":33},{"s":"F","k":"F","x":163.2,"y":35.5},{"s":"F","k":"F","x":163.1,"y":38.5},{"s":"F","k":"F","x":163,"y":42},{"s":"F","k":"F","x":162.9,"y":50},{"s":"F","k":"F","x":162.8,"y":60},{"s":"F","k":"F","x":162.7,"y":70},{"s":"F","k":"F","x":162.6,"y":81},{"s":"F","k":"F","x":162.5,"y":94},{"s":"F","k":"F","x":162.4,"y":106},{"s":"F","k":"F","x":162.3,"y":114},{"s":"F","k":"F","x":162.2,"y":118},{"s":"F","k":"F","x":162.1,"y":118},{"s":"F","k":"F","x":162,"y":114.5},{"s":"F","k":"F","x":161.9,"y":110},{"s":"F","k":"F","x":161.8,"y":105},{"s":"F","k":"F","x":161.7,"y":103.5},{"s":"F","k":"F","x":161.6,"y":112},{"s":"F","k":"F","x":161.5,"y":127},{"s":"F","k":"F","x":161.4,"y":144},{"s":"F","k":"F","x":161.3,"y":160},{"s":"F","k":"F","x":161.2,"y":175},{"s":"F","k":"F","x":161.1,"y":184.5},{"s":"F","k":"F","x":161,"y":186},{"s":"F","k":"F","x":160.9,"y":176},{"s":"F","k":"F","x":160.8,"y":160},{"s":"F","k":"F","x":160.7,"y":140},{"s":"F","k":"F","x":160.6,"y":114},{"s":"F","k":"F","x":160.5,"y":88},{"s":"F","k":"F","x":160.4,"y":71},{"s":"F","k":"F","x":160.3,"y":58},{"s":"F","k":"F","x":160.2,"y":48},{"s":"F","k":"F","x":160.1,"y":40},{"s":"F","k":"F","x":160,"y":31},{"s":"F","k":"F","x":159.9,"y":26},{"s":"F","k":"F","x":159.8,"y":22},{"s":"F","k":"F","x":159.7,"y":20.5},{"s":"F","k":"F","x":159.5,"y":19},{"s":"F","k":"F","x":159.2,"y":18.5},
{"s":"B","k":"B","x":163.3,"y":33},{"s":"B","k":"B","x":163,"y":32},{"s":"B","k":"B","x":162.5,"y":30.5},{"s":"B","k":"B","x":162,"y":28.5},{"s":"B","k":"B","x":161.5,"y":25},{"s":"B","k":"B","x":161,"y":23},{"s":"B","k":"B","x":160.5,"y":21.5},{"s":"B","k":"B","x":160,"y":19.5},{"s":"B","k":"B","x":159.5,"y":18.5},{"s":"B","k":"B","x":159.2,"y":18},
{"s":"D","k":"D1","x":163.3,"y":33},{"s":"D","k":"D1","x":163.1,"y":38},{"s":"D","k":"D1","x":163,"y":42},{"s":"D","k":"D1","x":162.9,"y":49.5},{"s":"D","k":"D1","x":162.8,"y":59},{"s":"D","k":"D1","x":162.7,"y":69.5},{"s":"D","k":"D1","x":162.6,"y":80.5},{"s":"D","k":"D1","x":162.5,"y":92.5},{"s":"D","k":"D1","x":162.4,"y":104},{"s":"D","k":"D1","x":162.3,"y":112.5},{"s":"D","k":"D1","x":162.2,"y":116},{"s":"D","k":"D1","x":162.1,"y":113},{"s":"D","k":"D1","x":162,"y":104},{"s":"D","k":"D1","x":161.9,"y":91},{"s":"D","k":"D1","x":161.8,"y":75},{"s":"D","k":"D1","x":161.7,"y":60},{"s":"D","k":"D1","x":161.6,"y":47},{"s":"D","k":"D1","x":161.5,"y":37},{"s":"D","k":"D1","x":161.4,"y":31},{"s":"D","k":"D1","x":161.3,"y":27},{"s":"D","k":"D1","x":161.2,"y":25},{"s":"D","k":"D1","x":161,"y":23},{"s":"D","k":"D1","x":160.5,"y":21.5},{"s":"D","k":"D1","x":160,"y":19.5},{"s":"D","k":"D1","x":159.5,"y":18.5},{"s":"D","k":"D1","x":159.2,"y":18},
{"s":"D","k":"D2","x":163.3,"y":33},{"s":"D","k":"D2","x":163,"y":32.5},{"s":"D","k":"D2","x":162.8,"y":32.5},{"s":"D","k":"D2","x":162.6,"y":33},{"s":"D","k":"D2","x":162.4,"y":34},{"s":"D","k":"D2","x":162.2,"y":37},{"s":"D","k":"D2","x":162.1,"y":41},{"s":"D","k":"D2","x":162,"y":48},{"s":"D","k":"D2","x":161.9,"y":56},{"s":"D","k":"D2","x":161.8,"y":67},{"s":"D","k":"D2","x":161.7,"y":81},{"s":"D","k":"D2","x":161.6,"y":98},{"s":"D","k":"D2","x":161.5,"y":118},{"s":"D","k":"D2","x":161.4,"y":139},{"s":"D","k":"D2","x":161.3,"y":158},{"s":"D","k":"D2","x":161.2,"y":174},{"s":"D","k":"D2","x":161.1,"y":184},{"s":"D","k":"D2","x":161,"y":185.5},{"s":"D","k":"D2","x":160.9,"y":176},{"s":"D","k":"D2","x":160.8,"y":160},{"s":"D","k":"D2","x":160.7,"y":139},{"s":"D","k":"D2","x":160.6,"y":113},{"s":"D","k":"D2","x":160.5,"y":87},{"s":"D","k":"D2","x":160.4,"y":70},{"s":"D","k":"D2","x":160.3,"y":57},{"s":"D","k":"D2","x":160.2,"y":47},{"s":"D","k":"D2","x":160.1,"y":39},{"s":"D","k":"D2","x":160,"y":30.5},{"s":"D","k":"D2","x":159.9,"y":25.5},{"s":"D","k":"D2","x":159.8,"y":22},{"s":"D","k":"D2","x":159.7,"y":20},{"s":"D","k":"D2","x":159.5,"y":19},{"s":"D","k":"D2","x":159.2,"y":18.5}
],
"e_t": [{"p":"m","t":"S 2p","x":162.50,"y":134.3},{"p":"s","t":"1/2","x":162.01,"y":129.3},{"p":"m","t":"S 2p","x":160.62,"y":187.7},{"p":"s","t":"3/2","x":160.13,"y":184}],
"f": [
{"s":"E","k":"E","x":403,"y":32},{"s":"E","k":"E","x":402.9,"y":28},{"s":"E","k":"E","x":402.8,"y":25},{"s":"E","k":"E","x":402.7,"y":30},{"s":"E","k":"E","x":402.6,"y":34},{"s":"E","k":"E","x":402.5,"y":29},{"s":"E","k":"E","x":402.4,"y":31},{"s":"E","k":"E","x":402.3,"y":35},{"s":"E","k":"E","x":402.2,"y":30},{"s":"E","k":"E","x":402.1,"y":27},{"s":"E","k":"E","x":402,"y":31},{"s":"E","k":"E","x":401.9,"y":37},{"s":"E","k":"E","x":401.8,"y":39},{"s":"E","k":"E","x":401.7,"y":35},{"s":"E","k":"E","x":401.6,"y":30},{"s":"E","k":"E","x":401.5,"y":33},{"s":"E","k":"E","x":401.4,"y":29},{"s":"E","k":"E","x":401.3,"y":38},{"s":"E","k":"E","x":401.2,"y":43},{"s":"E","k":"E","x":401.1,"y":39},{"s":"E","k":"E","x":401,"y":35},{"s":"E","k":"E","x":400.9,"y":37},{"s":"E","k":"E","x":400.8,"y":41},{"s":"E","k":"E","x":400.7,"y":45},{"s":"E","k":"E","x":400.6,"y":48},{"s":"E","k":"E","x":400.5,"y":44},{"s":"E","k":"E","x":400.4,"y":39},{"s":"E","k":"E","x":400.3,"y":41},{"s":"E","k":"E","x":400.2,"y":37},{"s":"E","k":"E","x":400.1,"y":34},{"s":"E","k":"E","x":400,"y":33},{"s":"E","k":"E","x":399.9,"y":31},{"s":"E","k":"E","x":399.8,"y":34},{"s":"E","k":"E","x":399.7,"y":40},{"s":"E","k":"E","x":399.6,"y":43},{"s":"E","k":"E","x":399.5,"y":45},{"s":"E","k":"E","x":399.4,"y":44},{"s":"E","k":"E","x":399.3,"y":46},{"s":"E","k":"E","x":399.2,"y":50},{"s":"E","k":"E","x":399.1,"y":53},{"s":"E","k":"E","x":399,"y":53},{"s":"E","k":"E","x":398.9,"y":57},{"s":"E","k":"E","x":398.8,"y":60},{"s":"E","k":"E","x":398.7,"y":63},{"s":"E","k":"E","x":398.6,"y":67},{"s":"E","k":"E","x":398.5,"y":73},{"s":"E","k":"E","x":398.4,"y":79},{"s":"E","k":"E","x":398.3,"y":85},{"s":"E","k":"E","x":398.2,"y":92},{"s":"E","k":"E","x":398.1,"y":99},{"s":"E","k":"E","x":398,"y":107},{"s":"E","k":"E","x":397.9,"y":115},{"s":"E","k":"E","x":397.8,"y":123},{"s":"E","k":"E","x":397.7,"y":131},{"s":"E","k":"E","x":397.6,"y":139},{"s":"E","k":"E","x":397.5,"y":147},{"s":"E","k":"E","x":397.4,"y":155},{"s":"E","k":"E","x":397.3,"y":163},{"s":"E","k":"E","x":397.2,"y":169},{"s":"E","k":"E","x":397.1,"y":174},{"s":"E","k":"E","x":397,"y":176},{"s":"E","k":"E","x":396.9,"y":176},{"s":"E","k":"E","x":396.8,"y":174},{"s":"E","k":"E","x":396.7,"y":170},{"s":"E","k":"E","x":396.6,"y":166},{"s":"E","k":"E","x":396.5,"y":161},{"s":"E","k":"E","x":396.4,"y":153},{"s":"E","k":"E","x":396.3,"y":146},{"s":"E","k":"E","x":396.2,"y":137},{"s":"E","k":"E","x":396.1,"y":127},{"s":"E","k":"E","x":396,"y":118},{"s":"E","k":"E","x":395.9,"y":109},{"s":"E","k":"E","x":395.8,"y":99},{"s":"E","k":"E","x":395.7,"y":90},{"s":"E","k":"E","x":395.6,"y":81},{"s":"E","k":"E","x":395.5,"y":74},{"s":"E","k":"E","x":395.4,"y":66},{"s":"E","k":"E","x":395.3,"y":59},{"s":"E","k":"E","x":395.2,"y":54},{"s":"E","k":"E","x":395.1,"y":50},{"s":"E","k":"E","x":395,"y":46},{"s":"E","k":"E","x":394.9,"y":43},{"s":"E","k":"E","x":394.8,"y":41},{"s":"E","k":"E","x":394.7,"y":36},{"s":"E","k":"E","x":394.6,"y":31},{"s":"E","k":"E","x":394.5,"y":29},{"s":"E","k":"E","x":394.4,"y":36},{"s":"E","k":"E","x":394.3,"y":38},{"s":"E","k":"E","x":394.2,"y":37},{"s":"E","k":"E","x":394.1,"y":39},{"s":"E","k":"E","x":394,"y":41},{"s":"E","k":"E","x":393.9,"y":43},{"s":"E","k":"E","x":393.8,"y":38},{"s":"E","k":"E","x":393.7,"y":33},{"s":"E","k":"E","x":393.6,"y":28},{"s":"E","k":"E","x":393.5,"y":25},{"s":"E","k":"E","x":393.4,"y":30},{"s":"E","k":"E","x":393.3,"y":35},{"s":"E","k":"E","x":393.2,"y":37},{"s":"E","k":"E","x":393.1,"y":36},{"s":"E","k":"E","x":393,"y":34},
{"s":"F","k":"F","x":403,"y":31},{"s":"F","k":"F","x":402.5,"y":31},{"s":"F","k":"F","x":402,"y":31},{"s":"F","k":"F","x":401.5,"y":31.5},{"s":"F","k":"F","x":401,"y":31.5},{"s":"F","k":"F","x":400.5,"y":32},{"s":"F","k":"F","x":400,"y":33},{"s":"F","k":"F","x":399.75,"y":35},{"s":"F","k":"F","x":399.5,"y":39},{"s":"F","k":"F","x":399.25,"y":43},{"s":"F","k":"F","x":399,"y":49},{"s":"F","k":"F","x":398.75,"y":58},{"s":"F","k":"F","x":398.5,"y":70},{"s":"F","k":"F","x":398.25,"y":87},{"s":"F","k":"F","x":398,"y":107},{"s":"F","k":"F","x":397.75,"y":127},{"s":"F","k":"F","x":397.5,"y":148},{"s":"F","k":"F","x":397.25,"y":166},{"s":"F","k":"F","x":397,"y":175.5},{"s":"F","k":"F","x":396.75,"y":173},{"s":"F","k":"F","x":396.5,"y":163},{"s":"F","k":"F","x":396.25,"y":143},{"s":"F","k":"F","x":396,"y":119},{"s":"F","k":"F","x":395.75,"y":95},{"s":"F","k":"F","x":395.5,"y":73},{"s":"F","k":"F","x":395.25,"y":57},{"s":"F","k":"F","x":395,"y":47},{"s":"F","k":"F","x":394.75,"y":41.5},{"s":"F","k":"F","x":394.5,"y":38},{"s":"F","k":"F","x":394,"y":35.5},{"s":"F","k":"F","x":393.5,"y":34.5},{"s":"F","k":"F","x":393,"y":34},
{"s":"B","k":"B","x":403,"y":31},{"s":"B","k":"B","x":400,"y":31.5},{"s":"B","k":"B","x":398.5,"y":32},{"s":"B","k":"B","x":396,"y":32.5},{"s":"B","k":"B","x":395,"y":33},{"s":"B","k":"B","x":394.5,"y":34},{"s":"B","k":"B","x":393,"y":34},
{"s":"D","k":"D1","x":403,"y":30.5},{"s":"D","k":"D1","x":402,"y":30.5},{"s":"D","k":"D1","x":401,"y":31},{"s":"D","k":"D1","x":400,"y":32.5},{"s":"D","k":"D1","x":399.75,"y":34.5},{"s":"D","k":"D1","x":399.5,"y":38.5},{"s":"D","k":"D1","x":399.25,"y":42.5},{"s":"D","k":"D1","x":399,"y":48.5},{"s":"D","k":"D1","x":398.75,"y":57.5},{"s":"D","k":"D1","x":398.5,"y":69.5},{"s":"D","k":"D1","x":398.25,"y":86.5},{"s":"D","k":"D1","x":398,"y":106.5},{"s":"D","k":"D1","x":397.75,"y":126.5},{"s":"D","k":"D1","x":397.5,"y":147.5},{"s":"D","k":"D1","x":397.25,"y":165.5},{"s":"D","k":"D1","x":397,"y":175},{"s":"D","k":"D1","x":396.75,"y":172.5},{"s":"D","k":"D1","x":396.5,"y":162.5},{"s":"D","k":"D1","x":396.25,"y":142.5},{"s":"D","k":"D1","x":396,"y":118.5},{"s":"D","k":"D1","x":395.75,"y":94.5},{"s":"D","k":"D1","x":395.5,"y":72.5},{"s":"D","k":"D1","x":395.25,"y":56.5},{"s":"D","k":"D1","x":395,"y":46.5},{"s":"D","k":"D1","x":394.75,"y":41},{"s":"D","k":"D1","x":394.5,"y":37.5},{"s":"D","k":"D1","x":394,"y":35},{"s":"D","k":"D1","x":393.5,"y":34},{"s":"D","k":"D1","x":393,"y":33.5}
],
"f_t": [{"p":"m","t":"N 1s","x":399.27,"y":146}]
},
"vconcat": [
{"hconcat": [
{"width": 339, "height": 272, "title": {"text": "a"}, "data": {"name": "a"},
 "encoding": {"x": {"field": "x", "type": "quantitative", "scale": {"domain": [568.0, 591.1], "reverse": true, "nice": false, "zero": false}, "axis": {"title": "Binding energy (eV)", "values": [590,587.5,585,582.5,580,577.5,575,572.5,570], "labelExpr": "datum.value % 5 == 0 ? format(datum.value, 'd') : ''"}},
  "y": {"field": "y", "type": "quantitative", "scale": {"domain": [0, 272], "nice": false, "zero": false}, "axis": {"title": "Intensity (a.u.)"}}},
 "layer": [
  {"transform": [{"filter": "datum.s == 'E'"}], "mark": {"type": "line", "strokeWidth": 1.5, "clip": true}, "encoding": {"color": {"field": "s", "type": "nominal", "scale": {"domain": ["E","F","B","D"], "range": ["black","#ff0000","black","#0000ff"]}, "legend": {"title": null, "labelExpr": "datum.label == 'E' ? 'Experimental curve' : datum.label == 'F' ? 'Fitted curve' : datum.label == 'B' ? 'Background curve' : 'Deconvoluted curve'", "encode": {"symbols": {"update": {"shape": {"signal": "datum.value == 'E' ? 'M-2.5,0H2.5M-0.35,0A0.35,0.35,0,1,1,0.35,0A0.35,0.35,0,1,1,-0.35,0Z' : 'M-2.5,0H2.5'"}, "fill": {"signal": "datum.value == 'E' ? 'black' : 'transparent'"}, "strokeDash": {"signal": "datum.value == 'D' ? [5,3] : [1,0]"}}}}}}, "strokeDash": {"field": "s", "type": "nominal", "scale": {"domain": ["E","F","B","D"], "range": [[1,0],[1,0],[1,0],[5,3]]}, "legend": null}}},
  {"transform": [{"filter": "datum.s == 'E'"}], "mark": {"type": "point", "filled": true, "size": 22, "color": "black", "opacity": 1, "clip": true}},
  {"transform": [{"filter": "datum.s != 'E'"}], "mark": {"type": "line", "strokeWidth": 1.8, "interpolate": "monotone", "clip": true}, "encoding": {"color": {"field": "s", "type": "nominal", "scale": {"domain": ["E","F","B","D"], "range": ["black","#ff0000","black","#0000ff"]}, "legend": {"title": null, "labelExpr": "datum.label == 'E' ? 'Experimental curve' : datum.label == 'F' ? 'Fitted curve' : datum.label == 'B' ? 'Background curve' : 'Deconvoluted curve'", "encode": {"symbols": {"update": {"shape": {"signal": "datum.value == 'E' ? 'M-2.5,0H2.5M-0.35,0A0.35,0.35,0,1,1,0.35,0A0.35,0.35,0,1,1,-0.35,0Z' : 'M-2.5,0H2.5'"}, "fill": {"signal": "datum.value == 'E' ? 'black' : 'transparent'"}, "strokeDash": {"signal": "datum.value == 'D' ? [5,3] : [1,0]"}}}}}}, "strokeDash": {"field": "s", "type": "nominal", "scale": {"domain": ["E","F","B","D"], "range": [[1,0],[1,0],[1,0],[5,3]]}, "legend": null}, "detail": {"field": "k"}}},
  {"data": {"name": "a_t"}, "transform": [{"filter": "datum.p == 'm'"}], "mark": {"type": "text", "align": "left", "baseline": "alphabetic", "fontSize": 19, "color": "black"}, "encoding": {"text": {"field": "t"}}},
  {"data": {"name": "a_t"}, "transform": [{"filter": "datum.p == 's'"}], "mark": {"type": "text", "align": "left", "baseline": "alphabetic", "fontSize": 16, "color": "black"}, "encoding": {"text": {"field": "t"}}}
 ]},
{"width": 338, "height": 272, "title": {"text": "b"}, "data": {"name": "b"},
 "encoding": {"x": {"field": "x", "type": "quantitative", "scale": {"domain": [159.2, 163.3], "reverse": true, "nice": false, "zero": false}, "axis": {"title": "Binding energy (eV)", "values": [163,162.5,162,161.5,161,160.5,160,159.5], "labelExpr": "datum.value % 1 == 0 ? format(datum.value, 'd') : ''"}},
  "y": {"field": "y", "type": "quantitative", "scale": {"domain": [0, 272], "nice": false, "zero": false}, "axis": {"title": "Intensity (a.u.)"}}},
 "layer": [
  {"transform": [{"filter": "datum.s == 'E'"}], "mark": {"type": "line", "strokeWidth": 1.5, "clip": true}, "encoding": {"color": {"field": "s", "type": "nominal", "scale": {"domain": ["E","F","B","D"], "range": ["black","#ff0000","black","#0000ff"]}, "legend": {"title": null, "labelExpr": "datum.label == 'E' ? 'Experimental curve' : datum.label == 'F' ? 'Fitted curve' : datum.label == 'B' ? 'Background curve' : 'Deconvoluted curve'", "encode": {"symbols": {"update": {"shape": {"signal": "datum.value == 'E' ? 'M-2.5,0H2.5M-0.35,0A0.35,0.35,0,1,1,0.35,0A0.35,0.35,0,1,1,-0.35,0Z' : 'M-2.5,0H2.5'"}, "fill": {"signal": "datum.value == 'E' ? 'black' : 'transparent'"}, "strokeDash": {"signal": "datum.value == 'D' ? [5,3] : [1,0]"}}}}}}, "strokeDash": {"field": "s", "type": "nominal", "scale": {"domain": ["E","F","B","D"], "range": [[1,0],[1,0],[1,0],[5,3]]}, "legend": null}}},
  {"transform": [{"filter": "datum.s == 'E'"}], "mark": {"type": "point", "filled": true, "size": 32, "color": "black", "opacity": 1, "clip": true}},
  {"transform": [{"filter": "datum.s != 'E'"}], "mark": {"type": "line", "strokeWidth": 1.8, "interpolate": "monotone", "clip": true}, "encoding": {"color": {"field": "s", "type": "nominal", "scale": {"domain": ["E","F","B","D"], "range": ["black","#ff0000","black","#0000ff"]}, "legend": {"title": null, "labelExpr": "datum.label == 'E' ? 'Experimental curve' : datum.label == 'F' ? 'Fitted curve' : datum.label == 'B' ? 'Background curve' : 'Deconvoluted curve'", "encode": {"symbols": {"update": {"shape": {"signal": "datum.value == 'E' ? 'M-2.5,0H2.5M-0.35,0A0.35,0.35,0,1,1,0.35,0A0.35,0.35,0,1,1,-0.35,0Z' : 'M-2.5,0H2.5'"}, "fill": {"signal": "datum.value == 'E' ? 'black' : 'transparent'"}, "strokeDash": {"signal": "datum.value == 'D' ? [5,3] : [1,0]"}}}}}}, "strokeDash": {"field": "s", "type": "nominal", "scale": {"domain": ["E","F","B","D"], "range": [[1,0],[1,0],[1,0],[5,3]]}, "legend": null}, "detail": {"field": "k"}}},
  {"data": {"name": "b_t"}, "transform": [{"filter": "datum.p == 'm'"}], "mark": {"type": "text", "align": "left", "baseline": "alphabetic", "fontSize": 19, "color": "black"}, "encoding": {"text": {"field": "t"}}},
  {"data": {"name": "b_t"}, "transform": [{"filter": "datum.p == 's'"}], "mark": {"type": "text", "align": "left", "baseline": "alphabetic", "fontSize": 16, "color": "black"}, "encoding": {"text": {"field": "t"}}}
 ]},
{"width": 338, "height": 272, "title": {"text": "c"}, "data": {"name": "c"},
 "encoding": {"x": {"field": "x", "type": "quantitative", "scale": {"domain": [393, 403], "reverse": true, "nice": false, "zero": false}, "axis": {"title": "Binding energy (eV)", "values": [402,401,400,399,398,397,396,395,394,393], "labelExpr": "datum.value % 2 == 0 ? format(datum.value, 'd') : ''"}},
  "y": {"field": "y", "type": "quantitative", "scale": {"domain": [0, 272], "nice": false, "zero": false}, "axis": {"title": "Intensity (a.u.)"}}},
 "layer": [
  {"mark": {"type": "line", "strokeWidth": 2, "clip": true}, "encoding": {"color": {"field": "s", "type": "nominal", "scale": {"domain": ["E"], "range": ["black"]}, "legend": {"title": null, "labelFont": "Liberation Serif", "labelFontSize": 13, "legendY": 5, "labelExpr": "'Experimental curve'", "encode": {"symbols": {"update": {"shape": {"value": "M-2.4,0H2.4M-0.3,0A0.3,0.3,0,1,1,0.3,0A0.3,0.3,0,1,1,-0.3,0Z"}, "fill": {"value": "black"}}}}}}}},
  {"mark": {"type": "point", "filled": true, "size": 24, "color": "black", "opacity": 1, "clip": true}},
  {"data": {"name": "c_t"}, "mark": {"type": "text", "align": "left", "baseline": "alphabetic", "fontSize": 21, "color": "black"}, "encoding": {"text": {"field": "t"}}}
 ]}
], "spacing": 57, "bounds": "flush", "resolve": {"scale": {"color": "independent", "strokeDash": "independent"}}},
{"hconcat": [
{"width": 339, "height": 272, "title": {"text": "d"}, "data": {"name": "d"},
 "encoding": {"x": {"field": "x", "type": "quantitative", "scale": {"domain": [568.0, 591.1], "reverse": true, "nice": false, "zero": false}, "axis": {"title": "Binding energy (eV)", "values": [590,587.5,585,582.5,580,577.5,575,572.5,570], "labelExpr": "datum.value % 5 == 0 ? format(datum.value, 'd') : ''"}},
  "y": {"field": "y", "type": "quantitative", "scale": {"domain": [0, 272], "nice": false, "zero": false}, "axis": {"title": "Intensity (a.u.)"}}},
 "layer": [
  {"transform": [{"filter": "datum.s == 'E'"}], "mark": {"type": "line", "strokeWidth": 1.5, "clip": true}, "encoding": {"color": {"field": "s", "type": "nominal", "scale": {"domain": ["E","F","B","D"], "range": ["black","#ff0000","black","#0000ff"]}, "legend": {"title": null, "labelExpr": "datum.label == 'E' ? 'Experimental curve' : datum.label == 'F' ? 'Fitted curve' : datum.label == 'B' ? 'Background curve' : 'Deconvoluted curve'", "encode": {"symbols": {"update": {"shape": {"signal": "datum.value == 'E' ? 'M-2.5,0H2.5M-0.35,0A0.35,0.35,0,1,1,0.35,0A0.35,0.35,0,1,1,-0.35,0Z' : 'M-2.5,0H2.5'"}, "fill": {"signal": "datum.value == 'E' ? 'black' : 'transparent'"}, "strokeDash": {"signal": "datum.value == 'D' ? [5,3] : [1,0]"}}}}}}, "strokeDash": {"field": "s", "type": "nominal", "scale": {"domain": ["E","F","B","D"], "range": [[1,0],[1,0],[1,0],[5,3]]}, "legend": null}}},
  {"transform": [{"filter": "datum.s == 'E'"}], "mark": {"type": "point", "filled": true, "size": 22, "color": "black", "opacity": 1, "clip": true}},
  {"transform": [{"filter": "datum.s != 'E'"}], "mark": {"type": "line", "strokeWidth": 1.8, "interpolate": "monotone", "clip": true}, "encoding": {"color": {"field": "s", "type": "nominal", "scale": {"domain": ["E","F","B","D"], "range": ["black","#ff0000","black","#0000ff"]}, "legend": {"title": null, "labelExpr": "datum.label == 'E' ? 'Experimental curve' : datum.label == 'F' ? 'Fitted curve' : datum.label == 'B' ? 'Background curve' : 'Deconvoluted curve'", "encode": {"symbols": {"update": {"shape": {"signal": "datum.value == 'E' ? 'M-2.5,0H2.5M-0.35,0A0.35,0.35,0,1,1,0.35,0A0.35,0.35,0,1,1,-0.35,0Z' : 'M-2.5,0H2.5'"}, "fill": {"signal": "datum.value == 'E' ? 'black' : 'transparent'"}, "strokeDash": {"signal": "datum.value == 'D' ? [5,3] : [1,0]"}}}}}}, "strokeDash": {"field": "s", "type": "nominal", "scale": {"domain": ["E","F","B","D"], "range": [[1,0],[1,0],[1,0],[5,3]]}, "legend": null}, "detail": {"field": "k"}}},
  {"data": {"name": "d_t"}, "transform": [{"filter": "datum.p == 'm'"}], "mark": {"type": "text", "align": "left", "baseline": "alphabetic", "fontSize": 19, "color": "black"}, "encoding": {"text": {"field": "t"}}},
  {"data": {"name": "d_t"}, "transform": [{"filter": "datum.p == 's'"}], "mark": {"type": "text", "align": "left", "baseline": "alphabetic", "fontSize": 16, "color": "black"}, "encoding": {"text": {"field": "t"}}}
 ]},
{"width": 338, "height": 272, "title": {"text": "e"}, "data": {"name": "e"},
 "encoding": {"x": {"field": "x", "type": "quantitative", "scale": {"domain": [159.2, 163.3], "reverse": true, "nice": false, "zero": false}, "axis": {"title": "Binding energy (eV)", "values": [163,162.5,162,161.5,161,160.5,160,159.5], "labelExpr": "datum.value % 1 == 0 ? format(datum.value, 'd') : ''"}},
  "y": {"field": "y", "type": "quantitative", "scale": {"domain": [0, 272], "nice": false, "zero": false}, "axis": {"title": "Intensity (a.u.)"}}},
 "layer": [
  {"transform": [{"filter": "datum.s == 'E'"}], "mark": {"type": "line", "strokeWidth": 1.5, "clip": true}, "encoding": {"color": {"field": "s", "type": "nominal", "scale": {"domain": ["E","F","B","D"], "range": ["black","#ff0000","black","#0000ff"]}, "legend": {"title": null, "labelExpr": "datum.label == 'E' ? 'Experimental curve' : datum.label == 'F' ? 'Fitted curve' : datum.label == 'B' ? 'Background curve' : 'Deconvoluted curve'", "encode": {"symbols": {"update": {"shape": {"signal": "datum.value == 'E' ? 'M-2.5,0H2.5M-0.35,0A0.35,0.35,0,1,1,0.35,0A0.35,0.35,0,1,1,-0.35,0Z' : 'M-2.5,0H2.5'"}, "fill": {"signal": "datum.value == 'E' ? 'black' : 'transparent'"}, "strokeDash": {"signal": "datum.value == 'D' ? [5,3] : [1,0]"}}}}}}, "strokeDash": {"field": "s", "type": "nominal", "scale": {"domain": ["E","F","B","D"], "range": [[1,0],[1,0],[1,0],[5,3]]}, "legend": null}}},
  {"transform": [{"filter": "datum.s == 'E'"}], "mark": {"type": "point", "filled": true, "size": 32, "color": "black", "opacity": 1, "clip": true}},
  {"transform": [{"filter": "datum.s != 'E'"}], "mark": {"type": "line", "strokeWidth": 1.8, "interpolate": "monotone", "clip": true}, "encoding": {"color": {"field": "s", "type": "nominal", "scale": {"domain": ["E","F","B","D"], "range": ["black","#ff0000","black","#0000ff"]}, "legend": {"title": null, "labelExpr": "datum.label == 'E' ? 'Experimental curve' : datum.label == 'F' ? 'Fitted curve' : datum.label == 'B' ? 'Background curve' : 'Deconvoluted curve'", "encode": {"symbols": {"update": {"shape": {"signal": "datum.value == 'E' ? 'M-2.5,0H2.5M-0.35,0A0.35,0.35,0,1,1,0.35,0A0.35,0.35,0,1,1,-0.35,0Z' : 'M-2.5,0H2.5'"}, "fill": {"signal": "datum.value == 'E' ? 'black' : 'transparent'"}, "strokeDash": {"signal": "datum.value == 'D' ? [5,3] : [1,0]"}}}}}}, "strokeDash": {"field": "s", "type": "nominal", "scale": {"domain": ["E","F","B","D"], "range": [[1,0],[1,0],[1,0],[5,3]]}, "legend": null}, "detail": {"field": "k"}}},
  {"data": {"name": "e_t"}, "transform": [{"filter": "datum.p == 'm'"}], "mark": {"type": "text", "align": "left", "baseline": "alphabetic", "fontSize": 19, "color": "black"}, "encoding": {"text": {"field": "t"}}},
  {"data": {"name": "e_t"}, "transform": [{"filter": "datum.p == 's'"}], "mark": {"type": "text", "align": "left", "baseline": "alphabetic", "fontSize": 16, "color": "black"}, "encoding": {"text": {"field": "t"}}}
 ]},
{"width": 338, "height": 272, "title": {"text": "f"}, "data": {"name": "f"},
 "encoding": {"x": {"field": "x", "type": "quantitative", "scale": {"domain": [393, 403], "reverse": true, "nice": false, "zero": false}, "axis": {"title": "Binding energy (eV)", "values": [402,401,400,399,398,397,396,395,394,393], "labelExpr": "datum.value % 2 == 0 ? format(datum.value, 'd') : ''"}},
  "y": {"field": "y", "type": "quantitative", "scale": {"domain": [0, 272], "nice": false, "zero": false}, "axis": {"title": "Intensity (a.u.)"}}},
 "layer": [
  {"transform": [{"filter": "datum.s == 'E'"}], "mark": {"type": "line", "strokeWidth": 1.5, "clip": true}, "encoding": {"color": {"field": "s", "type": "nominal", "scale": {"domain": ["E","F","B","D"], "range": ["black","#ff0000","black","#0000ff"]}, "legend": {"title": null, "labelExpr": "datum.label == 'E' ? 'Experimental curve' : datum.label == 'F' ? 'Fitted curve' : datum.label == 'B' ? 'Background curve' : 'Deconvoluted curve'", "encode": {"symbols": {"update": {"shape": {"signal": "datum.value == 'E' ? 'M-2.5,0H2.5M-0.35,0A0.35,0.35,0,1,1,0.35,0A0.35,0.35,0,1,1,-0.35,0Z' : 'M-2.5,0H2.5'"}, "fill": {"signal": "datum.value == 'E' ? 'black' : 'transparent'"}, "strokeDash": {"signal": "datum.value == 'D' ? [5,3] : [1,0]"}}}}}}, "strokeDash": {"field": "s", "type": "nominal", "scale": {"domain": ["E","F","B","D"], "range": [[1,0],[1,0],[1,0],[5,3]]}, "legend": null}}},
  {"transform": [{"filter": "datum.s == 'E'"}], "mark": {"type": "point", "filled": true, "size": 24, "color": "black", "opacity": 1, "clip": true}},
  {"transform": [{"filter": "datum.s != 'E'"}], "mark": {"type": "line", "strokeWidth": 1.8, "interpolate": "monotone", "clip": true}, "encoding": {"color": {"field": "s", "type": "nominal", "scale": {"domain": ["E","F","B","D"], "range": ["black","#ff0000","black","#0000ff"]}, "legend": {"title": null, "labelExpr": "datum.label == 'E' ? 'Experimental curve' : datum.label == 'F' ? 'Fitted curve' : datum.label == 'B' ? 'Background curve' : 'Deconvoluted curve'", "encode": {"symbols": {"update": {"shape": {"signal": "datum.value == 'E' ? 'M-2.5,0H2.5M-0.35,0A0.35,0.35,0,1,1,0.35,0A0.35,0.35,0,1,1,-0.35,0Z' : 'M-2.5,0H2.5'"}, "fill": {"signal": "datum.value == 'E' ? 'black' : 'transparent'"}, "strokeDash": {"signal": "datum.value == 'D' ? [5,3] : [1,0]"}}}}}}, "strokeDash": {"field": "s", "type": "nominal", "scale": {"domain": ["E","F","B","D"], "range": [[1,0],[1,0],[1,0],[5,3]]}, "legend": null}, "detail": {"field": "k"}}},
  {"data": {"name": "f_t"}, "mark": {"type": "text", "align": "left", "baseline": "alphabetic", "fontSize": 21, "color": "black"}, "encoding": {"text": {"field": "t"}}}
 ]}
], "spacing": 57, "bounds": "flush", "resolve": {"scale": {"color": "independent", "strokeDash": "independent"}}}
],
"spacing": 14, "bounds": "full", "resolve": {"scale": {"color": "independent", "strokeDash": "independent"}}
}
